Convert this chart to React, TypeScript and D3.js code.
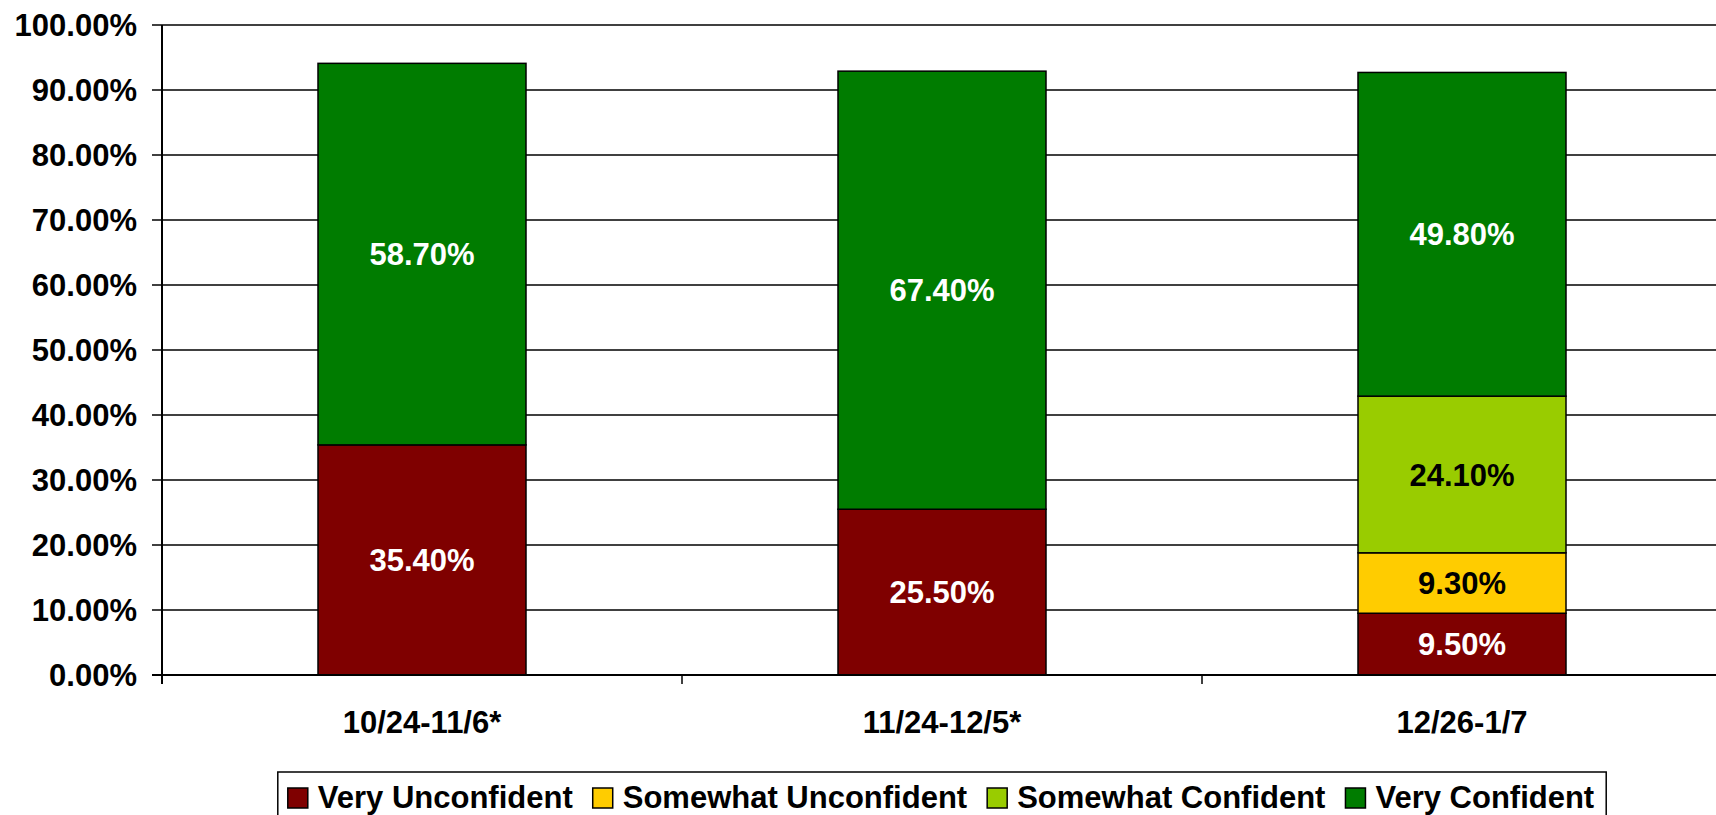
import React from "react";
import * as d3 from "d3";

const categories = ["10/24-11/6*", "11/24-12/5*", "12/26-1/7"];
const seriesNames = ["Very Unconfident", "Somewhat Unconfident", "Somewhat Confident", "Very Confident"];
const veryUnconfident = [35.4, 25.5, 9.5];
const somewhatUnconfident = [0, 0, 9.3];
const somewhatConfident = [0, 0, 24.1];
const veryConfident = [58.7, 67.4, 49.8];
const yTicks = [0, 10, 20, 30, 40, 50, 60, 70, 80, 90, 100];
const colors = ["#7f0000", "#ffcc00", "#99cc00", "#007c00"];
const labelColors = ["#ffffff", "#000000", "#000000", "#ffffff"];

const W = 1716;
const H = 815;
const FONT = "'Liberation Sans', Arial, sans-serif";
const FS = 31;

function measure(text: string): number {
  const c = document.createElement("canvas");
  const ctx = c.getContext("2d");
  if (!ctx) return text.length * FS * 0.55;
  ctx.font = `bold ${FS}px 'Liberation Sans', Arial, sans-serif`;
  return ctx.measureText(text).width;
}

export default function App() {
  React.useEffect(() => {
    document.body.style.margin = "0";
    document.body.style.overflow = "hidden";
  }, []);

  const plotLeft = 162;
  const plotRight = 1722;
  const plotTop = 25;
  const plotBottom = 675;

  const rows = categories.map((c, i) => ({
    cat: c,
    "Very Unconfident": veryUnconfident[i],
    "Somewhat Unconfident": somewhatUnconfident[i],
    "Somewhat Confident": somewhatConfident[i],
    "Very Confident": veryConfident[i],
  }));
  const stacked = d3.stack<any>().keys(seriesNames)(rows);

  const x = d3.scaleBand<string>().domain(categories).range([plotLeft, plotRight]).paddingInner(0.6).paddingOuter(0.3);
  const xOuter = d3.scaleBand<string>().domain(categories).range([plotLeft, plotRight]).padding(0);
  const y = d3.scaleLinear().domain([0, 100]).range([plotBottom, plotTop]);

  // legend layout
  const sq = 20;
  const gapSqText = 10;
  const gapItems = 20;
  const padL = 10;
  const padR = 12;
  const widths = seriesNames.map(measure);
  const legendW = padL + padR + widths.reduce((a, b) => a + b, 0) + seriesNames.length * (sq + gapSqText) + (seriesNames.length - 1) * gapItems;
  const legendCx = (plotLeft + plotRight) / 2;
  const legendX = legendCx - legendW / 2;
  const legendY = 772;
  let cursor = legendX + padL;
  const legendItems = seriesNames.map((n, i) => {
    const item = { name: n, x: cursor, color: colors[i] };
    cursor += sq + gapSqText + widths[i] + gapItems;
    return item;
  });

  return (
    <svg width={W} height={H} style={{ display: "block", background: "#fff" }} fontFamily={FONT}>
      {/* gridlines */}
      {yTicks.map((t) => (
        <line key={"g" + t} x1={plotLeft - 10} x2={plotRight} y1={y(t)} y2={y(t)} stroke="#000" strokeWidth={1.6} />
      ))}
      {/* y tick labels */}
      {yTicks.map((t) => (
        <text key={"yl" + t} x={137} y={y(t)} dy="0.36em" textAnchor="end" fontSize={FS} fontWeight="bold" fill="#000">
          {t.toFixed(2) + "%"}
        </text>
      ))}
      {/* bars */}
      {stacked.map((s, si) =>
        s.map((d, ci) => {
          const v = d[1] - d[0];
          if (v <= 0) return null;
          const bx = x(categories[ci]) as number;
          return (
            <g key={`b${si}-${ci}`}>
              <rect x={bx} y={y(d[1])} width={x.bandwidth()} height={y(d[0]) - y(d[1])} fill={colors[si]} stroke="#000" strokeWidth={1.5} />
            </g>
          );
        })
      )}
      {stacked.map((s, si) =>
        s.map((d, ci) => {
          const v = d[1] - d[0];
          if (v <= 0) return null;
          const bx = (x(categories[ci]) as number) + x.bandwidth() / 2;
          return (
            <text key={`l${si}-${ci}`} x={bx} y={(y(d[0]) + y(d[1])) / 2} dy="0.36em" textAnchor="middle" fontSize={FS} fontWeight="bold" fill={labelColors[si]}>
              {v.toFixed(2) + "%"}
            </text>
          );
        })
      )}
      {/* axes */}
      <line x1={plotLeft} x2={plotLeft} y1={plotTop} y2={plotBottom + 9} stroke="#000" strokeWidth={2} />
      <line x1={plotLeft - 10} x2={plotRight} y1={plotBottom} y2={plotBottom} stroke="#000" strokeWidth={2} />
      {categories.map((c) => (
        <line key={"xt" + c} x1={(xOuter(c) as number) + xOuter.bandwidth()} x2={(xOuter(c) as number) + xOuter.bandwidth()} y1={plotBottom} y2={plotBottom + 9} stroke="#000" strokeWidth={1.5} />
      ))}
      {categories.map((c) => (
        <text key={"xl" + c} x={(xOuter(c) as number) + xOuter.bandwidth() / 2} y={733} textAnchor="middle" fontSize={FS} fontWeight="bold" fill="#000">
          {c}
        </text>
      ))}
      {/* legend */}
      <rect x={legendX} y={legendY} width={legendW} height={60} fill="#fff" stroke="#000" strokeWidth={1.5} />
      {legendItems.map((it) => (
        <g key={"lg" + it.name}>
          <rect x={it.x} y={788} width={sq} height={sq} fill={it.color} stroke="#000" strokeWidth={1.5} />
          <text x={it.x + sq + gapSqText} y={808} fontSize={FS} fontWeight="bold" fill="#000">
            {it.name}
          </text>
        </g>
      ))}
    </svg>
  );
}
